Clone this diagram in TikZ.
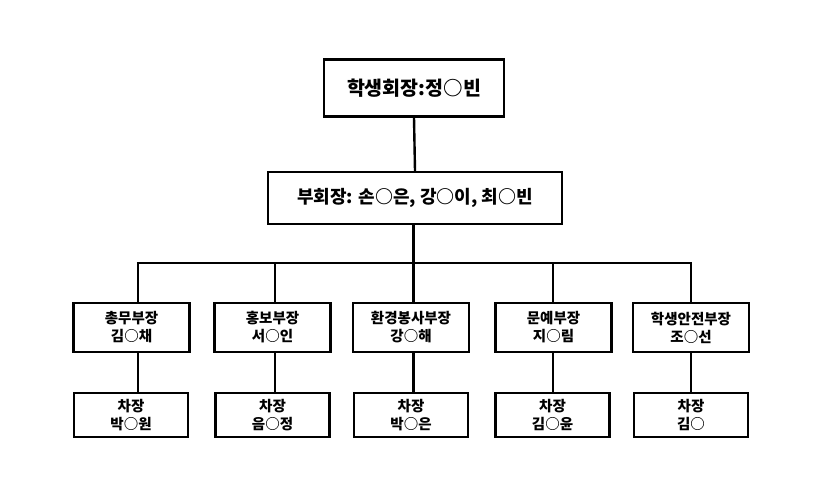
\documentclass[tikz,border=0pt]{standalone}
\usepackage{fontspec}
\setmainfont{Noto Sans CJK KR}
\begin{document}
\begin{tikzpicture}[x=1pt,y=-1pt,
  box/.style={draw,line width=2.2pt,align=center,inner sep=0pt,font=\bfseries},
  topbox/.style={box,minimum width=180pt,minimum height=57pt,font=\bfseries\fontsize{19.5}{22}\selectfont},
  vicebox/.style={box,minimum width=294pt,minimum height=52pt,font=\bfseries\fontsize{18}{22}\selectfont},
  deptbox/.style={box,minimum width=116pt,minimum height=49pt,font=\bfseries\fontsize{14.5}{18}\selectfont},
  subbox/.style={box,minimum width=114pt,minimum height=44pt,font=\bfseries\fontsize{14.5}{18}\selectfont},
  link/.style={line width=2.4pt}]
\useasboundingbox (0,0) rectangle (827,501);
\node[topbox] (pres) at (414,88) {학생회장:정○빈};
\node[vicebox] (vice) at (415,198) {부회장: 손○은, 강○이, 최○빈};
\node[deptbox] (d1) at (131.5,327.5) {총무부장\\김○채};
\node[deptbox] (d2) at (272.5,327.5) {홍보부장\\서○인};
\node[deptbox] (d3) at (411,327.5) {환경봉사부장\\강○해};
\node[deptbox] (d4) at (553.5,327.5) {문예부장\\지○림};
\node[deptbox] (d5) at (691,327.5) {학생안전부장\\조○선};
\node[subbox] (s1) at (131,415) {차장\\박○원};
\node[subbox] (s2) at (272.5,415) {차장\\음○정};
\node[subbox] (s3) at (411,415) {차장\\박○은};
\node[subbox] (s4) at (552.5,415) {차장\\김○윤};
\node[subbox] (s5) at (691,415) {차장\\김○};
\coordinate (h1) at (138,263);
\coordinate (h2) at (275,263);
\coordinate (h3) at (413.5,263);
\coordinate (h4) at (553,263);
\coordinate (h5) at (691,263);
\draw[link] (pres.south) -- (vice.north);
\draw[link] (h3 |- vice.south) -- (h3);
\draw[link] ([xshift=-1.2pt]h1) -- ([xshift=1.2pt]h5);
\foreach \i in {1,...,5}{
  \draw[link] (h\i) -- (h\i |- d\i.north);
  \draw[link] (h\i |- d\i.south) -- (h\i |- s\i.north);
}
\end{tikzpicture}
\end{document}
